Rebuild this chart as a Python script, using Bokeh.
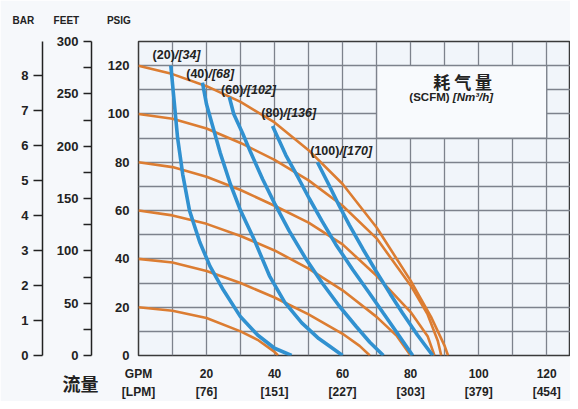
from bokeh.plotting import figure
from bokeh.models import Range1d, LinearAxis, FixedTicker, Label, Title, ColumnDataSource
from bokeh.core.properties import value
from bokeh.embed import file_html
from bokeh.resources import INLINE

# ---------------- data ----------------
gpm_ticks = [0, 20, 40, 60, 80, 100, 120]
gpm_labels = ["GPM", "20", "40", "60", "80", "100", "120"]
lpm_labels = ["[LPM]", "[76]", "[151]", "[227]", "[303]", "[379]", "[454]"]
psig_ticks = [0, 20, 40, 60, 80, 100, 120]
feet_ticks = [0, 50, 100, 150, 200, 250, 300]
feet_minor = [25, 75, 125, 175, 225, 275]
bar_ticks = [0, 1, 2, 3, 4, 5, 6, 7, 8]

# air-pressure curves (PSIG): flow (GPM) vs discharge pressure (PSIG)
o120_q = [0, 10, 20, 30, 40, 50, 60, 70, 80, 86, 90, 91]
o120_h = [120, 116.5, 111.5, 105, 96.5, 85, 71, 53, 31, 16, 4, 0]
o100_q = [0, 10, 20, 30, 40, 50, 60, 70, 80, 85, 88, 89]
o100_h = [100, 98, 94, 88, 81, 72.5, 62, 48.5, 29, 17, 6, 0]
o80_q = [0, 10, 20, 30, 40, 50, 60, 70, 80, 85, 87]
o80_h = [80, 78, 74, 68.5, 62, 55, 46, 33, 18, 8, 0]
o60_q = [0, 10, 20, 30, 40, 50, 60, 70, 76, 80]
o60_h = [60, 58, 54.5, 49.5, 43.5, 36, 27, 16, 8, 0]
o40_q = [0, 10, 20, 30, 40, 50, 60, 65, 68]
o40_h = [40, 38.5, 35, 30, 24, 17, 9, 4, 0]
o20_q = [0, 10, 20, 30, 35, 40, 41]
o20_h = [20, 18.5, 15.5, 10, 6.5, 1.5, 0]
orange_q = [o120_q, o100_q, o80_q, o60_q, o40_q, o20_q]
orange_h = [o120_h, o100_h, o80_h, o60_h, o40_h, o20_h]

# air-consumption curves: SCFM / Nm3/h
scfm = [20, 40, 60, 80, 100]
nm3h = [34, 68, 102, 136, 170]
b20_q = [9.5, 10.5, 11.5, 13, 15, 18, 21, 25, 30, 35, 40, 45]
b20_h = [120, 105, 90, 75, 60, 47, 37, 27, 16, 8.5, 3, 0]
b40_q = [18.8, 20, 22, 24, 27, 30, 34, 38.5, 43, 48, 53, 56, 60]
b40_h = [113, 104, 94, 84, 71, 60, 48, 33, 22, 13.5, 7, 4, 0]
b60_q = [26.7, 28, 30.6, 33, 36.5, 40, 44.3, 49, 54, 59, 64, 68, 72]
b60_h = [107, 100, 92, 84, 73, 63, 51.6, 40.5, 30, 20.5, 12, 5.5, 0]
b80_q = [39.4, 43.3, 47, 50.2, 54, 58, 63, 67.8, 72, 76.7, 80.6]
b80_h = [95, 83, 73.5, 65, 55.5, 46, 35.5, 26, 17.5, 8, 0]
b100_q = [52.6, 56, 59, 62, 66, 69.8, 74, 77.6, 82, 86.5]
b100_h = [80, 70.6, 62, 54, 44, 35, 25.5, 17.6, 8.5, 0]
blue_q = [b20_q, b40_q, b60_q, b80_q, b100_q]
blue_h = [b20_h, b40_h, b60_h, b80_h, b100_h]

# ---------------- style / layout ----------------
FONT = "Liberation Sans"
CJK = "Noto Sans CJK SC"
ORANGE = "#DC7D32"
BLUE = "#3191D0"
GRID = "#7D828C"
INK = "#222222"
BG = "#F1F5FA"
BORDER = "#F6F8FB"
BOX = "#F8FAFD"
NB = "\u00a0"

# pixel nudges of the curve labels from each curve's start point
label_dx = [4, 6, 14, 11, 22]
label_dy = [-11, -9, -7, -13, -11]

Y_MAX = 130
FEET_MAX = 300
BAR_MAX = Y_MAX / 14.5038
X_MAX = 127

p = figure(width=570, height=401,
           x_range=Range1d(0, X_MAX), y_range=Range1d(0, Y_MAX),
           output_backend="svg", toolbar_location=None,
           min_border_left=138, min_border_right=0,
           min_border_top=41, min_border_bottom=45,
           background_fill_color=BG, border_fill_color=BORDER)
p.extra_y_ranges = {"feet": Range1d(0, FEET_MAX), "bar": Range1d(0, BAR_MAX)}

p.outline_line_color = "#3a3a3a"
p.outline_line_width = 1.5

for g in (p.xgrid, p.ygrid):
    g.ticker = FixedTicker(ticks=list(range(0, 131, 10)))
    g.grid_line_color = GRID
    g.grid_line_width = 1.3

def style_labels(ax, size="13px"):
    ax.major_label_text_font = FONT
    ax.major_label_text_font_style = "bold"
    ax.major_label_text_font_size = size
    ax.major_label_text_color = INK

# PSIG axis (inner)
ya = p.yaxis[0]
ya.ticker = FixedTicker(ticks=psig_ticks)
ya.axis_line_color = None
ya.major_tick_line_color = None
ya.minor_tick_line_color = None
ya.major_tick_out = 0
ya.major_tick_in = 0
ya.minor_tick_out = 0
ya.minor_tick_in = 0
ya.major_label_standoff = 9
style_labels(ya)
ya.axis_label = " "
ya.axis_label_text_font_size = "1px"
ya.axis_label_standoff = 9

# FEET axis
feet = LinearAxis(y_range_name="feet",
                  ticker=FixedTicker(ticks=feet_ticks, minor_ticks=feet_minor))
feet.axis_line_color = INK
feet.axis_line_width = 1.5
feet.major_tick_line_color = INK
feet.minor_tick_line_color = INK
feet.major_tick_line_width = 1.5
feet.minor_tick_line_width = 1.5
feet.major_tick_out = 8
feet.minor_tick_out = 8
feet.major_tick_in = 0
feet.minor_tick_in = 0
feet.major_label_standoff = 5
style_labels(feet)
feet.axis_label = " "
feet.axis_label_text_font_size = "1px"
feet.axis_label_standoff = 7
p.add_layout(feet, "left")

# BAR axis
bar = LinearAxis(y_range_name="bar", ticker=FixedTicker(ticks=bar_ticks))
bar.axis_line_color = INK
bar.axis_line_width = 1.5
bar.major_tick_line_color = INK
bar.major_tick_line_width = 1.5
bar.major_tick_out = 9
bar.major_tick_in = 0
bar.minor_tick_line_color = None
bar.major_label_standoff = 5
style_labels(bar)
p.add_layout(bar, "left")

# GPM axis
xa = p.xaxis[0]
xa.ticker = FixedTicker(ticks=gpm_ticks)
xa.major_label_overrides = {q: s for q, s in zip(gpm_ticks, gpm_labels)}
xa.axis_line_color = None
xa.major_tick_line_color = None
xa.minor_tick_line_color = None
xa.major_tick_out = 0
xa.major_tick_in = 0
xa.major_label_standoff = 11
style_labels(xa, "12px")

# LPM axis
lpm = LinearAxis(ticker=FixedTicker(ticks=gpm_ticks),
                 major_label_overrides={q: s for q, s in zip(gpm_ticks, lpm_labels)})
lpm.axis_line_color = None
lpm.major_tick_line_color = None
lpm.minor_tick_line_color = None
lpm.major_tick_out = 0
lpm.major_tick_in = 0
lpm.major_label_standoff = 1
style_labels(lpm, "12px")
p.add_layout(lpm, "below")

# legend box (air consumption title area)
p.quad(left=70, right=120, bottom=90, top=120, fill_color=BOX,
       line_color=GRID, line_width=1.3)

# curves
for q, h in zip(orange_q, orange_h):
    p.line(q, h, line_color=ORANGE, line_width=2.6)
for q, h in zip(blue_q, blue_h):
    p.line(q, h, line_color=BLUE, line_width=3.6)

# curve labels
lab_src = ColumnDataSource(dict(
    x=[q[0] for q in blue_q], y=[h[0] for h in blue_h],
    a=["(%d)" % s for s in scfm], b=["/[%d]" % n for n in nm3h],
    dx=label_dx, dy=label_dy))
p.text(x="x", y="y", text="a", source=lab_src,
       text_align="right", text_baseline="middle", x_offset="dx", y_offset="dy",
       text_font=value(FONT), text_font_style="bold", text_font_size="12.5px",
       text_color=INK)
p.text(x="x", y="y", text="b", source=lab_src,
       text_align="left", text_baseline="middle", x_offset="dx", y_offset="dy",
       text_font=value(FONT), text_font_style="bold italic", text_font_size="12.5px",
       text_color=INK)

# title in plot
p.add_layout(Label(x=95.3, y=113.5, text="耗 气 量", text_align="center",
                   text_baseline="middle", text_font=CJK, text_font_style="bold",
                   text_font_size="17px", text_color=INK))
p.text(x=[92.4], y=[107.0], text=["(SCFM) "], text_align="right",
       text_baseline="middle", text_font=value(FONT), text_font_style="bold",
       text_font_size="11.5px", text_color=INK)
p.text(x=[92.4], y=[107.0], text=["[Nm³/h]"], text_align="left",
       text_baseline="middle", text_font=value(FONT), text_font_style="bold italic",
       text_font_size="11.5px", text_color=INK)

# headers above the axes
p.add_layout(Title(text="BAR" + NB * 7 + "FEET" + NB * 10 + "PSIG", align="left",
                   vertical_align="top", offset=-126, standoff=27,
                   text_font=FONT, text_font_style="bold",
                   text_font_size="10px", text_color=INK), "above")

# flow caption under the axes
p.add_layout(Title(text="流量", align="left", vertical_align="top",
                   offset=-76, standoff=-64,
                   text_font=CJK, text_font_style="bold",
                   text_font_size="18px", text_color=INK), "below")

open("out.html", "w").write(file_html(p, INLINE))
